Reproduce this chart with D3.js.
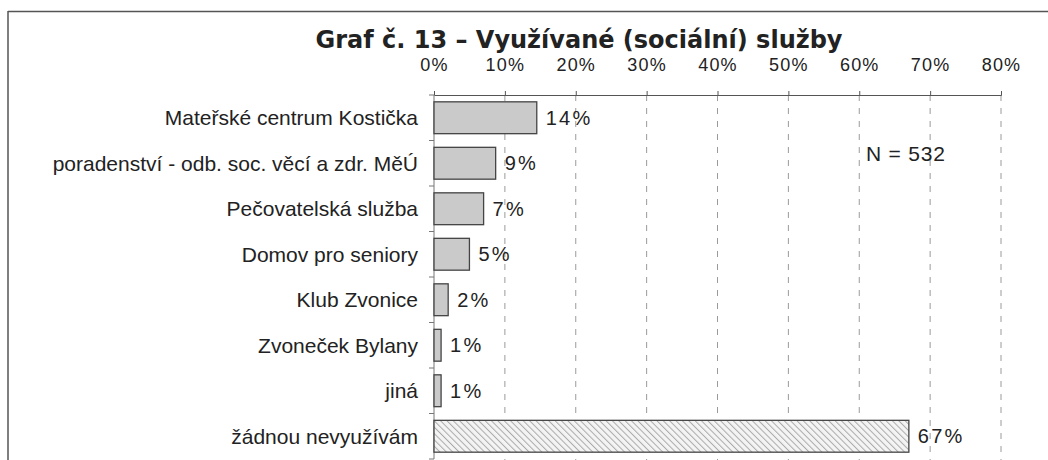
<!DOCTYPE html>
<html>
<head>
<meta charset="utf-8">
<script src="https://cdn.jsdelivr.net/npm/d3@7"></script>
<style>
  body { margin: 0; background: #fff; }
  .lbl { font-family: "Liberation Sans", Arial, sans-serif; fill: #222; }
</style>
</head>
<body>
<div id="graf"></div>
<script>
var kategorie = ["Mateřské centrum Kostička", "poradenství - odb. soc. věcí a zdr. MěÚ", "Pečovatelská služba",
  "Domov pro seniory", "Klub Zvonice", "Zvoneček Bylany", "jiná", "žádnou nevyužívám"];
var hodnoty = [14.5, 8.7, 7, 5, 2, 1, 1, 67];
var popisky = ["14%", "9%", "7%", "5%", "2%", "1%", "1%", "67%"];
var osaTicks = [0, 10, 20, 30, 40, 50, 60, 70, 80];

var sirka = 1048, vyska = 460;
var mLeft = 434, mRight = 1001, mTop = 95, mBottom = 459;

var svg = d3.select('#graf').append('svg')
  .attr('width', sirka)
  .attr('height', vyska);

var defs = svg.append('defs');
var hatch = defs.append('pattern')
  .attr('id', 'srafy')
  .attr('patternUnits', 'userSpaceOnUse')
  .attr('width', 4.5).attr('height', 4.5)
  .attr('patternTransform', 'rotate(-45)');
hatch.append('rect').attr('width', 4.5).attr('height', 4.5).attr('fill', '#f4f4f4');
hatch.append('line').attr('x1', 0).attr('y1', 0).attr('x2', 0).attr('y2', 4.5)
  .attr('stroke', '#aaa').attr('stroke-width', 2);

// ramecek
svg.append('line').attr('x1', 8).attr('y1', 11.5).attr('x2', sirka).attr('y2', 11.5)
  .attr('stroke', '#555').attr('stroke-width', 1.5);
svg.append('line').attr('x1', 8).attr('y1', 11).attr('x2', 8).attr('y2', vyska)
  .attr('stroke', '#555').attr('stroke-width', 1.5);

svg.append('text')
  .attr('x', 579).attr('y', 48)
  .attr('text-anchor', 'middle')
  .style('font-family', '"DejaVu Sans", Verdana, sans-serif')
  .style('font-weight', 'bold')
  .style('font-size', '24px')
  .attr('fill', '#222')
  .text('Graf č. 13 – Využívané (sociální) služby');

var x = d3.scaleLinear().domain([0, 80]).range([mLeft, mRight]);
var y = d3.scaleBand().domain(kategorie).range([mTop, mBottom]).paddingInner(0.3).paddingOuter(0.15);

// mrizka
svg.append('g').selectAll('line')
  .data(osaTicks.slice(1))
  .enter().append('line')
  .attr('x1', function(d) { return x(d); })
  .attr('x2', function(d) { return x(d); })
  .attr('y1', mTop)
  .attr('y2', vyska)
  .attr('stroke', '#9a9a9a')
  .attr('stroke-dasharray', '6,7');

// osa x nahore
var xAxis = d3.axisTop(x)
  .tickValues(osaTicks)
  .tickSize(4)
  .tickPadding(20)
  .tickFormat(function(d) { return d + '%'; });

var gx = svg.append('g')
  .attr('transform', 'translate(0,' + mTop + ')')
  .call(xAxis);
gx.select('.domain').attr('stroke', '#555');
gx.selectAll('.tick line').attr('stroke', '#555');
gx.selectAll('.tick text')
  .attr('class', 'lbl')
  .style('font-size', '18px')
  .style('letter-spacing', '1.2px')
  .attr('fill', '#333');

// osa y
var hranice = d3.range(kategorie.length + 1).map(function(i) { return mTop + i * (mBottom - mTop) / kategorie.length; });
svg.append('line').attr('x1', mLeft).attr('x2', mLeft).attr('y1', mTop).attr('y2', mBottom).attr('stroke', '#777');
svg.append('g').selectAll('line')
  .data(hranice)
  .enter().append('line')
  .attr('x1', mLeft - 5).attr('x2', mLeft)
  .attr('y1', function(d) { return d; })
  .attr('y2', function(d) { return d; })
  .attr('stroke', '#777');

svg.append('g').selectAll('text')
  .data(kategorie)
  .enter().append('text')
  .attr('class', 'lbl')
  .attr('x', mLeft - 16)
  .attr('y', function(d) { return y(d) + y.bandwidth() / 2; })
  .attr('dy', '0.35em')
  .attr('text-anchor', 'end')
  .style('font-size', '21px')
  .style('letter-spacing', '0px')
  .text(function(d) { return d; });

// sloupce
svg.append('g').selectAll('rect')
  .data(hodnoty)
  .enter().append('rect')
  .attr('x', x(0))
  .attr('y', function(d, i) { return y(kategorie[i]); })
  .attr('width', function(d) { return x(d) - x(0); })
  .attr('height', y.bandwidth())
  .attr('fill', function(d, i) { return i == 7 ? 'url(#srafy)' : '#cacaca'; })
  .attr('stroke', '#444')
  .attr('stroke-width', 1.3);

svg.append('g').selectAll('text')
  .data(hodnoty)
  .enter().append('text')
  .attr('class', 'lbl')
  .attr('x', function(d) { return x(d) + 9; })
  .attr('y', function(d, i) { return y(kategorie[i]) + y.bandwidth() / 2; })
  .attr('dy', '0.35em')
  .style('font-size', '20px')
  .style('letter-spacing', '2.2px')
  .text(function(d, i) { return popisky[i]; });

svg.append('text')
  .attr('class', 'lbl')
  .attr('x', 866).attr('y', 161)
  .style('font-size', '21px')
  .style('letter-spacing', '0.8px')
  .text('N = 532');
</script>
</body>
</html>
